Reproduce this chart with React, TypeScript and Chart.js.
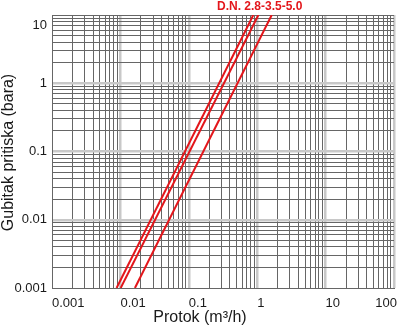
import React, { useEffect, useRef } from "react";
import { Chart, registerables } from "chart.js";

Chart.register(...registerables);

// ---- text ----
const chartTitle = "D.N. 2.8-3.5-5.0";
const xAxisTitle = "Protok (m³/h)";
const yAxisTitle = "Gubitak pritiska (bara)";

// ---- axes ----
const xDecades = [0.001, 0.01, 0.1, 1, 10, 100];
const yDecades = [0.001, 0.01, 0.1, 1, 10];
const minorSteps = [2, 3, 4, 5, 6, 7, 8, 9];
const xTickLabels = ["0.001", "0.01", "0.1", "1", "10", "100"];
const yTickLabels = ["0.001", "0.01", "0.1", "1", "10"];

// ---- series (pressure bar vs flow m3/h) ----
const seriesNames = ["D.N. 2.8", "D.N. 3.5", "D.N. 5.0"];
const pressureBar = [0.001, 10];
const flowDN28 = [0.0088, 0.877];
const flowDN35 = [0.0101, 1.04];
const flowDN50 = [0.0163, 1.63];

const RED = "#e3161b";
const GRID_DARK = "#666666";
const GRID_LIGHT = "#c8c8c8";
const FONT = "'Liberation Sans', Arial, Helvetica, sans-serif";

const isDecade = (v: number) => {
  const l = Math.log10(v);
  return Math.abs(l - Math.round(l)) < 1e-9;
};

const gridValues = (decades: number[]) => {
  const out: number[] = [];
  decades.forEach((d, i) => {
    out.push(d);
    if (i < decades.length - 1) minorSteps.forEach((m) => out.push(d * m));
  });
  return out;
};

const textPlugin = {
  id: "chartTexts",
  afterDraw(chart: any) {
    const { ctx, chartArea: a, scales } = chart;
    const xs = scales.x;
    const ys = scales.y;
    ctx.save();
    ctx.fillStyle = "#1a1a1a";
    ctx.font = `13px ${FONT}`;
    ctx.textBaseline = "middle";
    xDecades.forEach((v, i) => {
      const px = xs.getPixelForValue(v);
      const label = xTickLabels[i];
      const w = ctx.measureText(label).width;
      if (px + w > a.right + 4) {
        ctx.textAlign = "right";
        ctx.fillText(label, a.right + 3, a.bottom + 15);
      } else {
        ctx.textAlign = "left";
        ctx.fillText(label, px, a.bottom + 15);
      }
    });
    ctx.textAlign = "right";
    yDecades.forEach((v, i) => {
      const py = Math.min(Math.max(ys.getPixelForValue(v), a.top + 10), a.bottom + 2);
      ctx.fillText(yTickLabels[i], a.left - 5, py);
    });

    ctx.font = `16px ${FONT}`;
    ctx.textAlign = "center";
    ctx.fillText(xAxisTitle, chart.width / 2, a.bottom + 30);
    ctx.save();
    ctx.translate(9, (a.top + a.bottom) / 2 + 1);
    ctx.rotate(-Math.PI / 2);
    ctx.fillText(yAxisTitle, 0, 0);
    ctx.restore();

    ctx.font = `bold 12px ${FONT}`;
    ctx.fillStyle = RED;
    ctx.textAlign = "left";
    ctx.fillText(chartTitle, 217, 7);
    ctx.restore();
  },
};

export default function App() {
  const canvasRef = useRef<HTMLCanvasElement | null>(null);

  useEffect(() => {
    document.body.style.margin = "0";
    const canvas = canvasRef.current;
    if (!canvas) return;
    const xGrid = gridValues(xDecades);
    const yGrid = gridValues(yDecades);
    const yMax = yDecades[yDecades.length - 1];

    const mk = (flows: number[]) => pressureBar.map((p, i) => ({ x: flows[i], y: p }));

    const chart = new Chart(canvas, {
      type: "line",
      data: {
        datasets: [
          { label: seriesNames[0], data: mk(flowDN28) },
          { label: seriesNames[1], data: mk(flowDN35) },
          { label: seriesNames[2], data: mk(flowDN50) },
        ].map((d) => ({
          ...d,
          borderColor: RED,
          backgroundColor: RED,
          borderWidth: 2,
          pointRadius: 0,
          fill: false,
          tension: 0,
        })),
      },
      options: {
        responsive: false,
        animation: false,
        layout: { padding: { left: 52, right: 6, top: 15, bottom: 38 } },
        plugins: { legend: { display: false }, tooltip: { enabled: false }, title: { display: false } },
        scales: {
          x: {
            type: "logarithmic",
            min: xDecades[0],
            max: xDecades[xDecades.length - 1],
            afterBuildTicks: (scale: any) => {
              scale.ticks = xGrid.map((v) => ({ value: v, major: isDecade(v) }));
            },
            ticks: { display: false },
            grid: {
              drawTicks: false,
              color: (c: any) => (c.tick && isDecade(c.tick.value) && c.tick.value !== xDecades[0] ? GRID_LIGHT : GRID_DARK),
              lineWidth: (c: any) => (c.tick && isDecade(c.tick.value) && c.tick.value !== xDecades[0] ? 2.5 : 1),
            },
            border: { display: true, color: GRID_DARK, width: 1 },
          },
          y: {
            type: "logarithmic",
            min: yDecades[0],
            max: yMax,
            afterBuildTicks: (scale: any) => {
              scale.ticks = yGrid.map((v) => ({ value: v, major: isDecade(v) }));
            },
            ticks: { display: false },
            grid: {
              drawTicks: false,
              color: (c: any) =>
                c.tick && isDecade(c.tick.value) && c.tick.value !== yMax && c.tick.value !== yDecades[0] ? GRID_LIGHT : GRID_DARK,
              lineWidth: (c: any) =>
                c.tick && isDecade(c.tick.value) && c.tick.value !== yMax && c.tick.value !== yDecades[0] ? 2.5 : 1,
            },
            border: { display: true, color: GRID_DARK, width: 1 },
          },
        },
      },
      plugins: [textPlugin],
    } as any);
    return () => chart.destroy();
  }, []);

  return (
    <div style={{ width: 400, height: 326, background: "#fff" }}>
      <canvas ref={canvasRef} width={400} height={326} style={{ display: "block" }} />
    </div>
  );
}
